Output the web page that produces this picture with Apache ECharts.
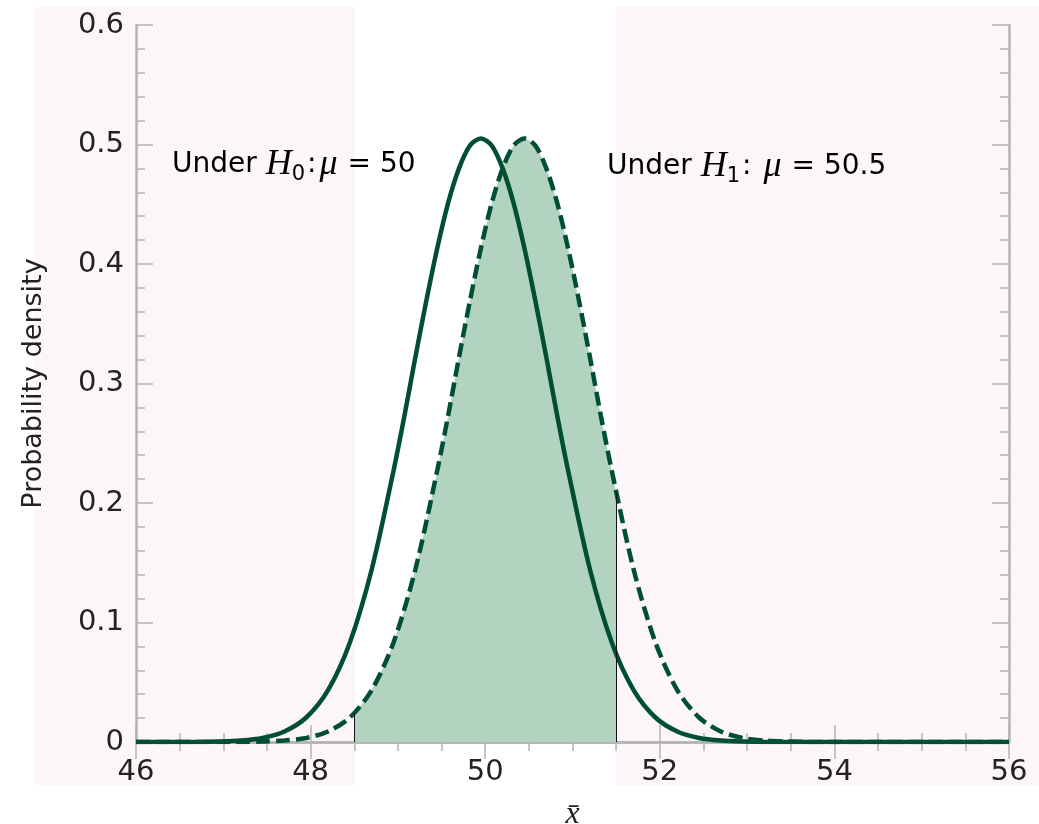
<!DOCTYPE html>
<html>
<head>
<meta charset="utf-8">
<title>Probability density under H0 and H1</title>
<script src="https://cdn.jsdelivr.net/npm/echarts@6.0.0/dist/echarts.min.js"></script>
<style>
  html, body { margin: 0; padding: 0; background: #ffffff; }
  #chart { width: 1039px; height: 824px; }
</style>
</head>
<body>
<div id="chart"></div>
<script>
// curve under H0 (solid)
const h0X = [46, 46.7, 46.95, 47.2, 47.45, 47.7, 47.95, 48.2, 48.45, 48.7, 48.95, 49.075, 49.2, 49.325,
  49.45, 49.575, 49.7, 49.825, 49.95, 50.075, 50.2, 50.325, 50.45, 50.575, 50.7, 50.825, 50.95,
  51.2, 51.45, 51.7, 51.95, 52.2, 52.45, 52.7, 52.95, 53.2, 56];
const h0Y = [0, 0.0001, 0.0004, 0.0012, 0.0034, 0.0088, 0.0205, 0.0434, 0.0833, 0.1444, 0.227, 0.273, 0.322, 0.369,
  0.413, 0.451, 0.480, 0.499, 0.505, 0.499, 0.480, 0.451, 0.413, 0.369, 0.322, 0.273, 0.227,
  0.1444, 0.0833, 0.0434, 0.0205, 0.0088, 0.0034, 0.0012, 0.0004, 0.0001, 0];

// curve under H1 (dashed)
const h1X = [46, 47.2, 47.45, 47.7, 47.95, 48.2, 48.45, 48.7, 48.95, 49.2, 49.45, 49.575, 49.7, 49.825,
  49.95, 50.075, 50.2, 50.325, 50.45, 50.575, 50.7, 50.825, 50.95, 51.075, 51.2, 51.325, 51.45,
  51.7, 51.95, 52.2, 52.45, 52.7, 52.95, 53.2, 53.45, 53.7, 56];
const h1Y = [0, 0.0001, 0.0004, 0.0012, 0.0034, 0.0088, 0.0205, 0.0434, 0.0833, 0.1444, 0.227, 0.273, 0.322, 0.369,
  0.413, 0.451, 0.480, 0.499, 0.505, 0.499, 0.480, 0.451, 0.413, 0.369, 0.322, 0.273, 0.227,
  0.1444, 0.0833, 0.0434, 0.0205, 0.0088, 0.0034, 0.0012, 0.0004, 0.0001, 0];

// shaded part under H1 between 48.5 and 51.5
const fillX = [48.5, 48.7, 48.95, 49.2, 49.45, 49.575, 49.7, 49.825, 49.95, 50.075, 50.2, 50.325, 50.45,
  50.575, 50.7, 50.825, 50.95, 51.075, 51.2, 51.325, 51.45, 51.5];
const fillY = [0.024, 0.0434, 0.0833, 0.1444, 0.227, 0.273, 0.322, 0.369, 0.413, 0.451, 0.480, 0.499, 0.505,
  0.499, 0.480, 0.451, 0.413, 0.369, 0.322, 0.273, 0.227, 0.209];

const xTicks = [46, 48, 50, 52, 54, 56];
const yTicks = [0, 0.1, 0.2, 0.3, 0.4, 0.5, 0.6];

const green = '#004f34';
const grey = '#b4b4b4';
const textColor = '#222222';
const sans = 'DejaVu Sans';
const serif = 'Liberation Serif';

const pairs = (a, b) => a.map((v, i) => [v, b[i]]);

const chart = echarts.init(document.getElementById('chart'));

const axisCommon = {
  axisLine: { show: true, lineStyle: { color: grey, width: 2.5 } },
  axisTick: { show: true, inside: true, length: 17, lineStyle: { color: grey, width: 1.5 } },
  minorTick: { show: true, length: 9, lineStyle: { color: grey, width: 1.5 } },
  splitLine: { show: false }
};

function richStyles() {
  return {
    t: { fontFamily: sans, fontSize: 28, color: textColor, lineHeight: 40, verticalAlign: 'middle' },
    e: { fontFamily: sans, fontSize: 28, color: textColor, lineHeight: 40, verticalAlign: 'middle', padding: [0, 0, 0, 10] },
    h: { fontFamily: serif, fontStyle: 'italic', fontSize: 36, color: textColor, lineHeight: 40, verticalAlign: 'middle' },
    s: { fontFamily: sans, fontSize: 21, color: textColor, lineHeight: 25, verticalAlign: 'bottom' },
    c: { fontFamily: sans, fontSize: 28, color: textColor, lineHeight: 40, verticalAlign: 'middle', padding: [0, 3, 0, 2] },
    m: { fontFamily: serif, fontStyle: 'italic', fontSize: 36, color: textColor, lineHeight: 40, verticalAlign: 'middle' }
  };
}

const option = {
  animation: false,
  backgroundColor: '#ffffff',
  grid: { left: 136, right: 30, top: 25, bottom: 82, outerBoundsMode: 'none', containLabel: false },
  xAxis: [
    Object.assign({}, axisCommon, {
      type: 'value',
      min: xTicks[0],
      max: xTicks[xTicks.length - 1],
      interval: 2,
      position: 'bottom',
      minorTick: Object.assign({}, axisCommon.minorTick, { splitNumber: 4 }),
      axisLabel: { color: textColor, fontFamily: sans, fontSize: 29, margin: 16 },
      name: 'x\u0304',
      nameLocation: 'middle',
      nameGap: 57,
      nameTextStyle: { fontFamily: serif, fontStyle: 'italic', fontSize: 32, color: textColor }
    }),
    Object.assign({}, axisCommon, {
      type: 'value',
      min: xTicks[0],
      max: xTicks[xTicks.length - 1],
      interval: 2,
      position: 'top',
      minorTick: Object.assign({}, axisCommon.minorTick, { splitNumber: 4 }),
      axisLabel: { show: false }
    })
  ],
  yAxis: [
    Object.assign({}, axisCommon, {
      type: 'value',
      min: yTicks[0],
      max: yTicks[yTicks.length - 1],
      interval: 0.1,
      position: 'left',
      minorTick: Object.assign({}, axisCommon.minorTick, { splitNumber: 5 }),
      axisLabel: { color: textColor, fontFamily: sans, fontSize: 29, margin: 12 },
      name: 'Probability density',
      nameLocation: 'middle',
      nameGap: 89,
      nameTextStyle: { fontFamily: sans, fontSize: 27, color: textColor }
    }),
    Object.assign({}, axisCommon, {
      type: 'value',
      min: yTicks[0],
      max: yTicks[yTicks.length - 1],
      interval: 0.1,
      position: 'right',
      minorTick: Object.assign({}, axisCommon.minorTick, { splitNumber: 5 }),
      axisLabel: { show: false }
    })
  ],
  graphic: {
    elements: [
      // pale pink background outside the shaded band
      { type: 'rect', z: -100, shape: { x: 35, y: 7, width: 320, height: 778 }, style: { fill: '#fcf6fb' } },
      { type: 'rect', z: -100, shape: { x: 616, y: 7, width: 423, height: 778 }, style: { fill: '#fcf6fb' } },
      {
        type: 'text', z: 100, left: 172, top: 147,
        style: {
          text: '{t|Under }{h|H}{s|0}{c|:}{m|\u03bc}{e|= 50}',
          rich: richStyles()
        }
      },
      {
        type: 'text', z: 100, left: 607, top: 149,
        style: {
          text: '{t|Under }{h|H}{s|1}{c|:}{m| \u03bc}{e|= 50.5}',
          rich: richStyles()
        }
      }
    ]
  },
  series: [
    {
      name: 'shaded',
      type: 'line',
      data: pairs(fillX, fillY),
      smooth: 0.3,
      symbol: 'none',
      z: 1,
      lineStyle: { width: 0 },
      areaStyle: { color: '#b3d3c1', opacity: 1 },
      markLine: {
        silent: true,
        symbol: 'none',
        label: { show: false },
        lineStyle: { color: '#111111', width: 1, type: 'solid' },
        data: [
          [{ coord: [fillX[0], 0] }, { coord: [fillX[0], fillY[0]] }],
          [{ coord: [fillX[fillX.length - 1], 0] }, { coord: [fillX[fillX.length - 1], fillY[fillY.length - 1]] }]
        ]
      }
    },
    {
      name: 'H1',
      type: 'line',
      data: pairs(h1X, h1Y),
      smooth: 0.3,
      symbol: 'none',
      z: 3,
      lineStyle: { color: green, width: 4.5, type: [14, 6] }
    },
    {
      name: 'H0',
      type: 'line',
      data: pairs(h0X, h0Y),
      smooth: 0.3,
      symbol: 'none',
      z: 4,
      lineStyle: { color: green, width: 4.5 }
    }
  ]
};

chart.setOption(option);
window.addEventListener('resize', () => chart.resize());
</script>
</body>
</html>
